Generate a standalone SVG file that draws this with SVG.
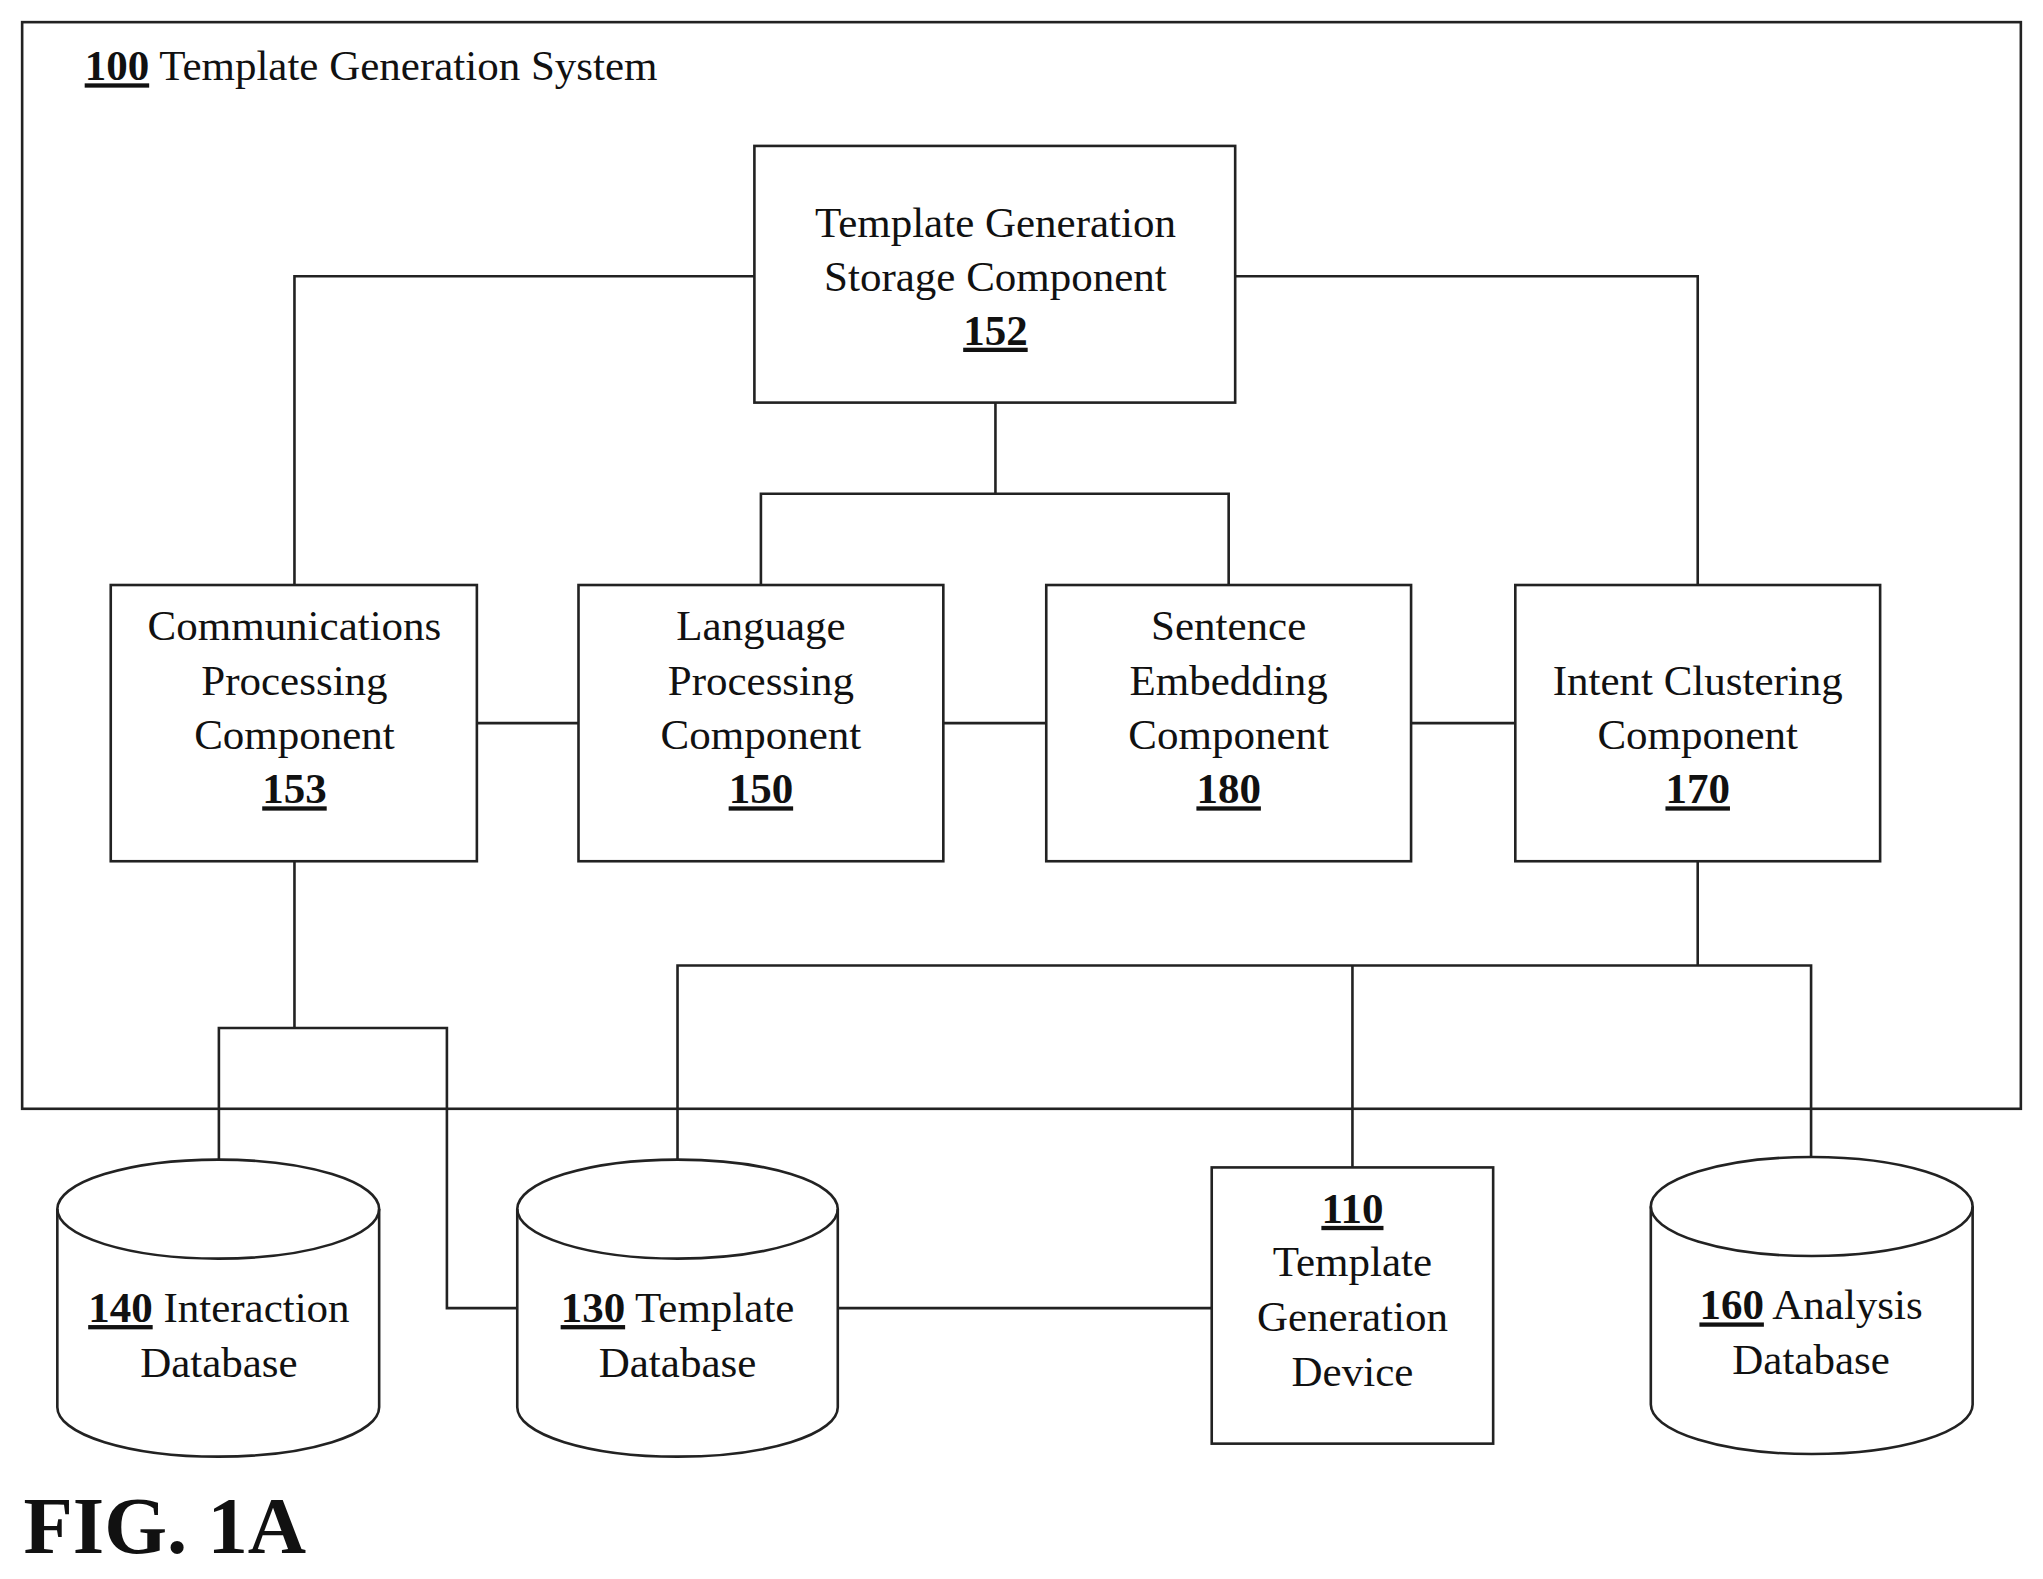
<svg xmlns="http://www.w3.org/2000/svg" width="2043" height="1579" viewBox="0 0 2043 1579">
<style>
.b{fill:#fff;stroke:#222;stroke-width:2}
.l{fill:none;stroke:#222;stroke-width:2}
text{font-family:"Liberation Serif",serif;font-size:33px;fill:#111;text-anchor:middle;dominant-baseline:middle}
.u{font-weight:bold;text-decoration:underline}
</style>
<rect width="2043" height="1579" fill="#fff"/>
<g transform="scale(1.30293)">
<g id="system"><rect class="l" x="17" y="17" width="1534" height="834"/>
<text x="65" y="54" style="text-anchor:start"><tspan class="u">100</tspan> Template Generation System</text></g>
<g id="connectors">
<polyline class="l" points="579,212 226,212 226,449"/>
<polyline class="l" points="948,212 1303,212 1303,449"/>
<polyline class="l" points="764,309 764,379"/>
<polyline class="l" points="584,449 584,379 943,379 943,449"/>
<line class="l" x1="366" y1="555" x2="444" y2="555"/>
<line class="l" x1="724" y1="555" x2="803" y2="555"/>
<line class="l" x1="1083" y1="555" x2="1163" y2="555"/>
<polyline class="l" points="226,661 226,789"/>
<polyline class="l" points="168,890 168,789 343,789 343,1004 397,1004"/>
<polyline class="l" points="1303,661 1303,741"/>
<polyline class="l" points="520,890 520,741 1390,741 1390,888"/>
<line class="l" x1="1038" y1="741" x2="1038" y2="896"/>
<line class="l" x1="643" y1="1004" x2="930" y2="1004"/>
</g>
<g id="n152"><rect class="b" x="579" y="112" width="369" height="197"/>
<text x="764" y="174">Template Generation</text><text x="764" y="216">Storage Component</text><text x="764" y="257" class="u">152</text></g>
<g id="n153"><rect class="b" x="85" y="449" width="281" height="212"/>
<text x="226" y="484">Communications</text><text x="226" y="526">Processing</text><text x="226" y="567">Component</text><text x="226" y="609" class="u">153</text></g>
<g id="n150"><rect class="b" x="444" y="449" width="280" height="212"/>
<text x="584" y="484">Language</text><text x="584" y="526">Processing</text><text x="584" y="567">Component</text><text x="584" y="609" class="u">150</text></g>
<g id="n180"><rect class="b" x="803" y="449" width="280" height="212"/>
<text x="943" y="484">Sentence</text><text x="943" y="526">Embedding</text><text x="943" y="567">Component</text><text x="943" y="609" class="u">180</text></g>
<g id="n170"><rect class="b" x="1163" y="449" width="280" height="212"/>
<text x="1303" y="526">Intent Clustering</text><text x="1303" y="567">Component</text><text x="1303" y="609" class="u">170</text></g>
<g id="n140"><path class="b" d="M44,928 A123.5,38 0 0 1 291,928 V1080 A123.5,38 0 0 1 44,1080 Z"/><path class="l" d="M44,928 A123.5,38 0 0 0 291,928"/>
<text x="168" y="1007"><tspan class="u">140</tspan> Interaction</text><text x="168" y="1049">Database</text></g>
<g id="n130"><path class="b" d="M397,928 A123,38 0 0 1 643,928 V1080 A123,38 0 0 1 397,1080 Z"/><path class="l" d="M397,928 A123,38 0 0 0 643,928"/>
<text x="520" y="1007"><tspan class="u">130</tspan> Template</text><text x="520" y="1049">Database</text></g>
<g id="n160"><path class="b" d="M1267,926 A123.5,38 0 0 1 1514,926 V1078 A123.5,38 0 0 1 1267,1078 Z"/><path class="l" d="M1267,926 A123.5,38 0 0 0 1514,926"/>
<text x="1390" y="1005"><tspan class="u">160</tspan> Analysis</text><text x="1390" y="1047">Database</text></g>
<g id="n110"><rect class="b" x="930" y="896" width="216" height="212"/>
<text x="1038" y="931" class="u">110</text><text x="1038" y="972">Template</text><text x="1038" y="1014">Generation</text><text x="1038" y="1056">Device</text></g>
<text x="18" y="1178" style="text-anchor:start;font-weight:bold;font-size:62px">FIG. 1A</text>
</g>
</svg>
